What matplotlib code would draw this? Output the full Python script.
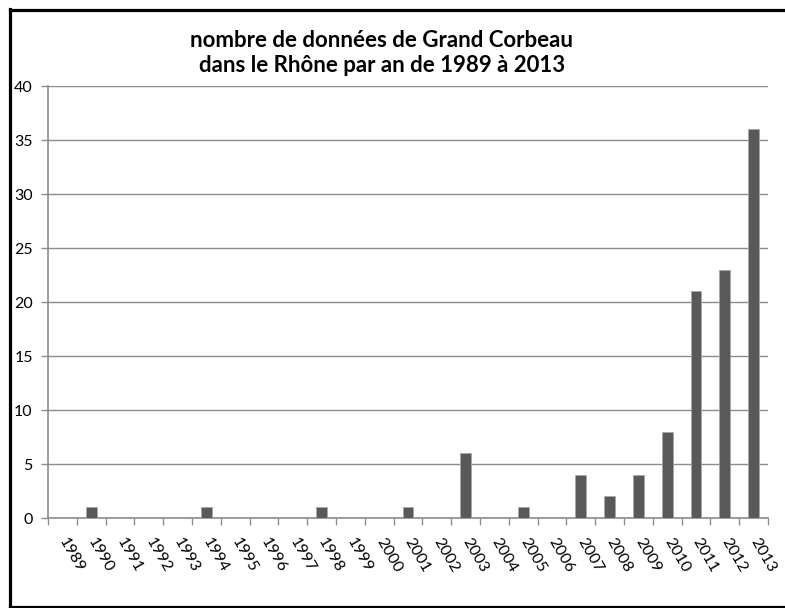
import matplotlib.pyplot as plt
from matplotlib.lines import Line2D
import numpy as np

# years and number of records per year
years = [str(y) for y in range(1989, 2014)]
counts = [0, 1, 0, 0, 0, 1, 0, 0, 0, 1, 0, 0, 1, 0, 6, 0, 1, 0, 4, 2, 4, 8, 21, 23, 36]
title = "nombre de données de Grand Corbeau\ndans le Rhône par an de 1989 à 2013"

plt.rcParams['font.family'] = ['Lato', 'DejaVu Sans']

W, H = 785, 608
fig = plt.figure(figsize=(W / 100, H / 100), dpi=100, facecolor="white")
ax = fig.add_axes([48 / W, 1 - 518 / H, (768 - 48) / W, (518 - 86) / H])

x = np.arange(len(years))
ax.bar(x, counts, width=0.38, color="#595959", edgecolor="#a6a6a6", linewidth=0.5, zorder=3)

ax.set_xlim(-0.5, len(years) - 0.5)
ax.set_ylim(0, 40)
ax.set_yticks(range(0, 41, 5))
ax.grid(axis="y", color="#8c8c8c", linewidth=1.0, zorder=0)

# category labels at centres, tick marks at boundaries
ax.set_xticks(x)
ax.set_xticklabels(years, rotation=-60, ha="left", va="center", rotation_mode="anchor", fontsize=11.5)
ax.tick_params(axis="x", which="major", length=0, pad=15)
ax.set_xticks(np.arange(-0.5, len(years)), minor=True)
ax.tick_params(axis="x", which="minor", length=5, color="#8c8c8c", width=1)
ax.tick_params(axis="y", length=5, color="#8c8c8c", width=1, labelsize=11.5, pad=6)

for s in ["top", "right"]:
    ax.spines[s].set_visible(False)
for s in ["left", "bottom"]:
    ax.spines[s].set_color("#8c8c8c")
    ax.spines[s].set_linewidth(1.2)

fig.text(382 / W, 1 - 53 / H, title, ha="center", va="center", fontsize=16,
         fontweight="bold", linespacing=1.2)

# outer frame of the chart
lw = 2.3
fig.add_artist(Line2D([9.5 / W, 9.5 / W], [0, 1 - 9 / H], color="black", lw=lw))
fig.add_artist(Line2D([9.5 / W, 1], [1 - 9.5 / H, 1 - 9.5 / H], color="black", lw=lw))
fig.add_artist(Line2D([9.5 / W, 1], [1 - 606.5 / H, 1 - 606.5 / H], color="black", lw=lw))

plt.savefig("out.png", dpi=100, facecolor="white")
